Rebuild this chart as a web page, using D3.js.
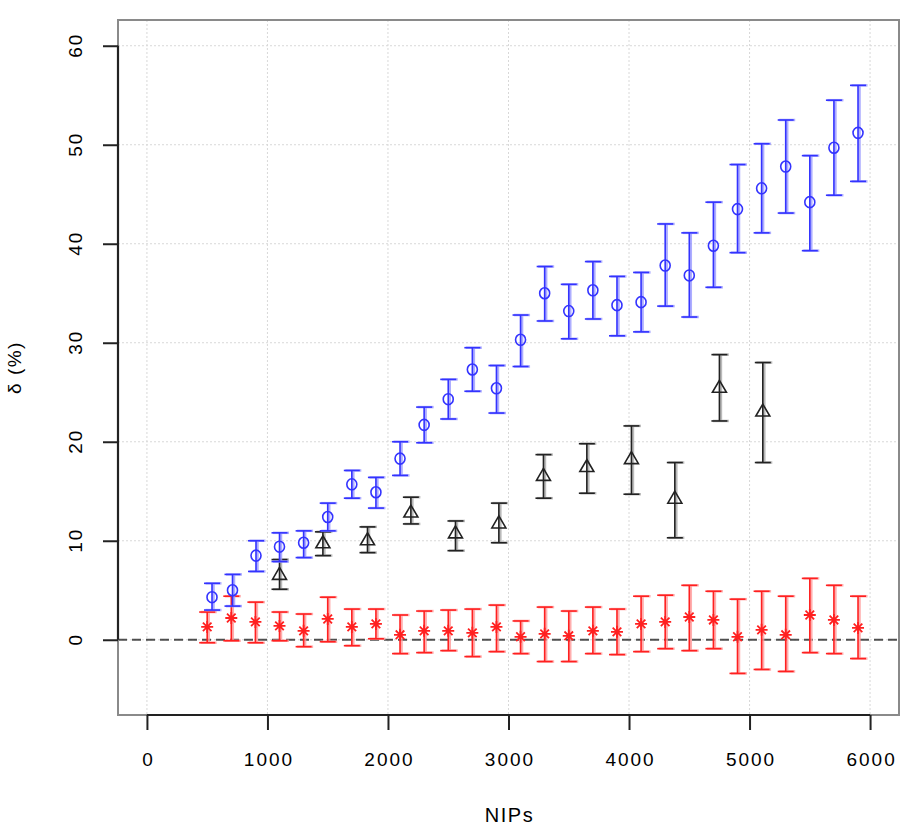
<!DOCTYPE html>
<html>
<head>
<meta charset="utf-8">
<script src="https://cdn.jsdelivr.net/npm/d3@7"></script>
<style>
  body { margin: 0; background: #fff; }
  text { font-family: "Liberation Sans", Arial, sans-serif; }
</style>
</head>
<body>
<div class="chart"></div>
<script>
// data
var blueX   = [540, 710, 905, 1100, 1300, 1500, 1700, 1900, 2100, 2300, 2500, 2700, 2900, 3100,
               3300, 3500, 3700, 3900, 4100, 4300, 4500, 4700, 4900, 5100, 5300, 5500, 5700, 5900];
var blueY   = [4.3, 5.0, 8.5, 9.4, 9.8, 12.4, 15.7, 14.9, 18.3, 21.7, 24.3, 27.3, 25.4, 30.3,
               35.0, 33.2, 35.3, 33.8, 34.1, 37.8, 36.8, 39.8, 43.5, 45.6, 47.8, 44.2, 49.7, 51.2];
var blueHi  = [5.7, 6.6, 10.0, 10.8, 11.0, 13.8, 17.1, 16.4, 20.0, 23.5, 26.3, 29.5, 27.7, 32.8,
               37.7, 35.9, 38.2, 36.7, 37.1, 42.0, 41.1, 44.2, 48.0, 50.1, 52.5, 48.9, 54.5, 56.0];
var blueLo  = [3.0, 3.4, 6.9, 7.9, 8.3, 11.0, 14.3, 13.3, 16.6, 19.9, 22.3, 25.1, 22.9, 27.6,
               32.2, 30.4, 32.4, 30.7, 31.1, 33.7, 32.6, 35.6, 39.1, 41.1, 43.1, 39.3, 44.9, 46.3];

var blackX  = [1100, 1460, 1830, 2190, 2560, 2920, 3290, 3650, 4020, 4380, 4750, 5110];
var blackY  = [6.6, 9.8, 10.1, 12.9, 10.8, 11.8, 16.6, 17.5, 18.3, 14.3, 25.5, 23.1];
var blackHi = [8.1, 10.9, 11.4, 14.4, 12.0, 13.8, 18.7, 19.8, 21.6, 17.9, 28.8, 28.0];
var blackLo = [5.1, 8.5, 8.8, 11.7, 9.0, 9.8, 14.3, 14.8, 14.7, 10.3, 22.1, 17.9];

var redX    = [500, 700, 900, 1100, 1300, 1500, 1700, 1900, 2100, 2300, 2500, 2700, 2900, 3100,
               3300, 3500, 3700, 3900, 4100, 4300, 4500, 4700, 4900, 5100, 5300, 5500, 5700, 5900];
var redY    = [1.3, 2.2, 1.8, 1.4, 0.9, 2.1, 1.3, 1.6, 0.5, 0.9, 0.9, 0.7, 1.3, 0.3,
               0.6, 0.4, 0.9, 0.8, 1.6, 1.8, 2.3, 2.0, 0.3, 1.0, 0.5, 2.5, 2.0, 1.2];
var redHi   = [2.8, 4.4, 3.8, 2.8, 2.6, 4.3, 3.1, 3.1, 2.5, 2.9, 3.0, 3.1, 3.5, 1.9,
               3.3, 2.9, 3.3, 3.1, 4.4, 4.5, 5.5, 4.9, 4.1, 4.9, 4.4, 6.2, 5.5, 4.4];
var redLo   = [-0.3, -0.1, -0.3, -0.1, -0.7, -0.2, -0.6, 0.1, -1.4, -1.3, -1.1, -1.7, -1.2, -1.4,
               -2.2, -2.2, -1.4, -1.5, -1.2, -0.9, -1.1, -0.9, -3.4, -3.0, -3.2, -1.3, -1.4, -1.9];

var xTicks = [0, 1000, 2000, 3000, 4000, 5000, 6000];
var yTicks = [0, 10, 20, 30, 40, 50, 60];

var W = 910, H = 832;
var margin = {top: 20, right: 11, bottom: 117, left: 118},
    width = W - margin.left - margin.right,
    height = H - margin.top - margin.bottom;

var svg = d3.select(".chart").append("svg")
    .attr("width", W).attr("height", H);
var g = svg.append("g")
    .attr("transform", "translate(" + margin.left + "," + margin.top + ")");

var x = d3.scaleLinear().domain([-240, 6240]).range([0, width]);
var y = d3.scaleLinear().domain([-7.6, 62.6]).range([height, 0]);

// grid
g.append("g").selectAll("line").data(xTicks).enter().append("line")
  .attr("x1", function(d) { return x(d); }).attr("x2", function(d) { return x(d); })
  .attr("y1", 0).attr("y2", height)
  .attr("stroke", "#d8d8d8").attr("stroke-dasharray", "2,2");
g.append("g").selectAll("line").data(yTicks).enter().append("line")
  .attr("y1", function(d) { return y(d); }).attr("y2", function(d) { return y(d); })
  .attr("x1", 0).attr("x2", width)
  .attr("stroke", "#d8d8d8").attr("stroke-dasharray", "2,2");

// dashed zero line
g.append("line")
  .attr("x1", 0).attr("x2", width)
  .attr("y1", y(0)).attr("y2", y(0))
  .attr("stroke", "#333").attr("stroke-width", 2.2)
  .attr("stroke-dasharray", "9,5").attr("opacity", 0.85);

// box
g.append("rect")
  .attr("width", width).attr("height", height)
  .attr("fill", "none").attr("stroke", "#8a8a8a").attr("stroke-width", 2);

// axes
var xAxis = g.append("g")
  .attr("transform", "translate(0," + height + ")")
  .call(d3.axisBottom(x).tickValues(xTicks).tickSize(15).tickFormat(d3.format("d")));
var yAxis = g.append("g")
  .call(d3.axisLeft(y).tickValues(yTicks).tickSize(15));

[xAxis, yAxis].forEach(function(a) {
  a.select(".domain").attr("stroke", "#222").attr("stroke-width", 2.2);
  a.selectAll(".tick line").attr("stroke", "#222").attr("stroke-width", 2);
  a.selectAll(".tick text").attr("font-size", 19).attr("fill", "#000")
    .attr("letter-spacing", "2px")
    .attr("font-family", "Liberation Sans, Arial, sans-serif");
});
// R style: domain spans only first to last tick
xAxis.select(".domain").attr("d", "M" + x(0) + ",0H" + x(6000));
yAxis.select(".domain").attr("d", "M0," + y(0) + "V" + y(60));
xAxis.selectAll(".tick text").attr("y", 51).attr("dy", 0).attr("dx", 1);
yAxis.selectAll(".tick text")
  .attr("text-anchor", "middle")
  .attr("transform", "translate(-43,0) rotate(-90)")
  .attr("x", 1).attr("dy", "0.35em");

// error bars
function errorBars(xs, lo, hi, dark, light, cap) {
  var data = xs.map(function(d, i) { return {x: d, lo: lo[i], hi: hi[i]}; });
  var eg = g.append("g");
  [{c: light, w: 2.5, dx: 1.5, o: 0.8}, {c: dark, w: 1.6, dx: 0, o: 1}].forEach(function(s) {
    var sg = eg.append("g").attr("stroke", s.c).attr("stroke-width", s.w).attr("opacity", s.o)
      .attr("transform", "translate(" + s.dx + ",0)");
    sg.selectAll(".v").data(data).enter().append("line")
      .attr("x1", function(d) { return x(d.x); }).attr("x2", function(d) { return x(d.x); })
      .attr("y1", function(d) { return y(d.lo); }).attr("y2", function(d) { return y(d.hi); });
    sg.selectAll(".t").data(data).enter().append("line")
      .attr("x1", function(d) { return x(d.x) - cap; }).attr("x2", function(d) { return x(d.x) + cap; })
      .attr("y1", function(d) { return y(d.hi); }).attr("y2", function(d) { return y(d.hi); });
    sg.selectAll(".b").data(data).enter().append("line")
      .attr("x1", function(d) { return x(d.x) - cap; }).attr("x2", function(d) { return x(d.x) + cap; })
      .attr("y1", function(d) { return y(d.lo); }).attr("y2", function(d) { return y(d.lo); });
  });
}

errorBars(redX, redLo, redHi, "#ff2020", "#ff9a9a", 8);
errorBars(blackX, blackLo, blackHi, "#222", "#aaa", 8);
errorBars(blueX, blueLo, blueHi, "#3333ff", "#9a9aff", 8);

// red stars
var starPath = "M-6,0H6M0,-6V6M-4.3,-4.3L4.3,4.3M-4.3,4.3L4.3,-4.3";
g.append("g").selectAll("path").data(redX).enter().append("path")
  .attr("transform", function(d, i) { return "translate(" + x(d) + "," + y(redY[i]) + ")"; })
  .attr("d", starPath)
  .attr("stroke", "#ff2020").attr("stroke-width", 1.8).attr("fill", "none");

// black triangles
g.append("g").selectAll("path").data(blackX).enter().append("path")
  .attr("transform", function(d, i) { return "translate(" + x(d) + "," + y(blackY[i]) + ")"; })
  .attr("d", "M0,-7L7,5H-7Z")
  .attr("stroke", "#222").attr("stroke-width", 1.6).attr("fill", "none");

// blue circles
g.append("g").selectAll("ellipse").data(blueX).enter().append("ellipse")
  .attr("cx", function(d) { return x(d); })
  .attr("cy", function(d, i) { return y(blueY[i]); })
  .attr("rx", 5).attr("ry", 5.5)
  .attr("stroke", "#3333ff").attr("stroke-width", 1.6).attr("fill", "none");

// axis titles
svg.append("text")
  .attr("x", margin.left + x(3000) + 1).attr("y", 822)
  .attr("text-anchor", "middle").attr("font-size", 20).attr("letter-spacing", "1.5px")
  .text("NIPs");
svg.append("text")
  .attr("transform", "translate(14," + (margin.top + height / 2) + ") rotate(-90)")
  .attr("text-anchor", "middle").attr("dy", "0.35em").attr("font-size", 19)
  .attr("letter-spacing", "1.5px")
  .text("δ (%)");
</script>
</body>
</html>
